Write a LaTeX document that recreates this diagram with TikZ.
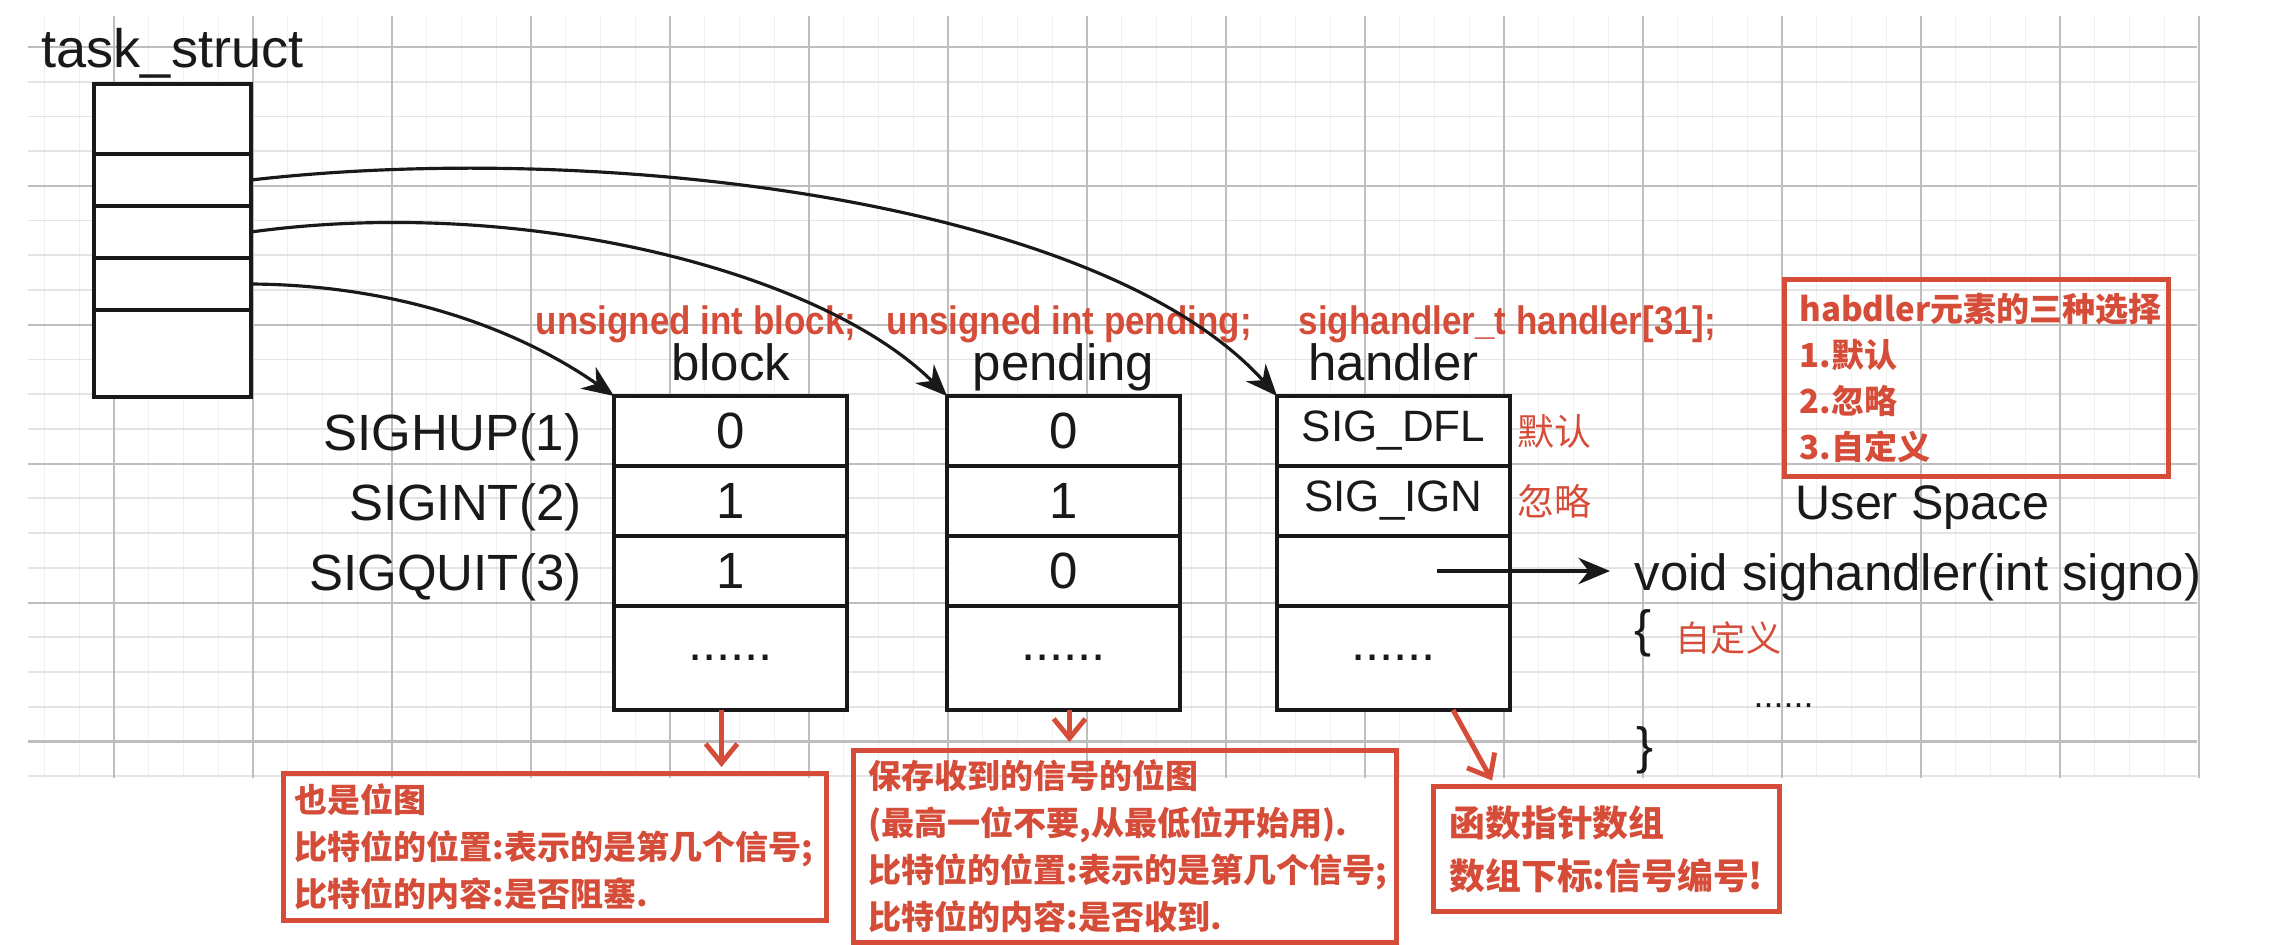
\documentclass[tikz,border=0pt]{standalone}
\usepackage{fontspec}
\setmainfont{Liberation Sans}
\newfontfamily\cjk{Noto Sans CJK SC}
\newfontfamily\narrowbf[FakeStretch=0.88]{Liberation Sans}
\usetikzlibrary{arrows.meta,positioning}
\definecolor{ink}{RGB}{25,25,25}
\definecolor{alarm}{RGB}{213,77,57}
\definecolor{gridmajor}{RGB}{190,190,190}
\definecolor{gridminor}{RGB}{228,228,228}
\definecolor{gridfaint}{RGB}{240,240,240}
\tikzset{
  >={Stealth[length=9pt,width=7.5pt]},
  src/.style={text=ink,inner sep=0pt,font=\fontsize{14.5}{17}\selectfont},
  slot/.style={draw=ink,fill=white,line width=1pt,minimum width=1.57cm,
    inner sep=0pt,outer sep=0pt},
  cell/.style={draw=ink,fill=white,line width=1pt,minimum width=2.33cm,
    minimum height=0.7cm,inner sep=0pt,outer sep=0pt,text=ink,
    font=\fontsize{14.5}{17}\selectfont},
  tag/.style={text=alarm,inner sep=0pt,font=\narrowbf\bfseries\fontsize{11.3}{13}\selectfont},
  zh/.style={text=alarm,inner sep=0pt,font=\cjk\fontsize{10.5}{12}\selectfont},
  note/.style={draw=alarm,line width=1.4pt,text=alarm,align=left,anchor=north west,
    inner ysep=0pt,font=\cjk\bfseries\fontsize{9.4}{13.4}\selectfont},
  pointer/.style={->,draw=ink,line width=0.9pt},
  hint/.style={draw=alarm,line width=1.4pt,-{Straight Barb[length=5.5pt,width=9pt]}},
}

\begin{document}
\begin{tikzpicture}
  \useasboundingbox (0,0) rectangle (22.70,-9.44);
  \fill[white] (0,0) rectangle (22.70,-9.44);
  % grid paper
  \foreach \k in {-2,...,60}
    \draw[gridfaint,line width=0.4pt] ({(114+34.75*\k)/100},-0.16) -- ++(0,-7.62);
  \foreach \k in {0,...,21}
    \draw[gridminor,line width=0.5pt] (0.28,{-(47+34.72*\k)/100}) -- (21.97,{-(47+34.72*\k)/100});
  \foreach \k in {0,...,15}
    \draw[gridmajor,line width=0.6pt] ({(114+139*\k)/100},-0.16) -- ++(0,-7.62);
  \foreach \k in {0,...,5}
    \draw[gridmajor,line width=0.6pt] (0.28,{-(47+138.9*\k)/100}) -- (21.97,{-(47+138.9*\k)/100});

  % task_struct
  \node[src,anchor=base west,font=\fontsize{15.4}{18}\selectfont] (title) at (0.41,-0.67) {task\_struct};
  \node[slot,minimum height=0.70cm,anchor=north west] (t1) at (0.94,-0.84) {};
  \node[slot,minimum height=0.52cm,below=0pt of t1] (t2) {};
  \node[slot,minimum height=0.52cm,below=0pt of t2] (t3) {};
  \node[slot,minimum height=0.52cm,below=0pt of t3] (t4) {};
  \node[slot,minimum height=0.87cm,below=0pt of t4] (t5) {};

  % block / pending / handler tables
  \node[cell,anchor=north west] (b1) at (6.14,-3.96) {0};
  \node[cell,below=0pt of b1] (b2) {1};
  \node[cell,below=0pt of b2] (b3) {1};
  \node[cell,minimum height=1.04cm,below=0pt of b3] (b4) {......};
  \node[cell,right=1.0cm of b1] (p1) {0};
  \node[cell,below=0pt of p1] (p2) {1};
  \node[cell,below=0pt of p2] (p3) {0};
  \node[cell,minimum height=1.04cm,below=0pt of p3] (p4) {......};
  \node[cell,right=0.97cm of p1,font=\fontsize{12.5}{15}\selectfont] (h1) {SIG\_DFL};
  \node[cell,below=0pt of h1,font=\fontsize{12.5}{15}\selectfont] (h2) {SIG\_IGN};
  \node[cell,below=0pt of h2] (h3) {};
  \node[cell,minimum height=1.04cm,below=0pt of h3] (h4) {......};

  \node[src,anchor=base] (bhead) at ([yshift=0.16cm]b1.north) {block};
  \node[src,anchor=base] (phead) at ([yshift=0.16cm]p1.north) {pending};
  \node[src,anchor=base] (hhead) at ([yshift=0.16cm]h1.north) {handler};
  \node[src,anchor=base east] (sig1) at ([xshift=-0.32cm,yshift=-0.19cm]b1.west) {SIGHUP(1)};
  \node[src,anchor=base east] (sig2) at ([xshift=-0.32cm,yshift=-0.19cm]b2.west) {SIGINT(2)};
  \node[src,anchor=base east] (sig3) at ([xshift=-0.32cm,yshift=-0.19cm]b3.west) {SIGQUIT(3)};

  \node[tag,anchor=base west] (btag) at (5.35,-3.34) {unsigned int block;};
  \node[tag,anchor=base west] (ptag) at (8.86,-3.34) {unsigned int pending;};
  \node[tag,anchor=base west] (htag) at (12.98,-3.34) {sighandler\_t handler[31];};
  \node[zh,anchor=west] (dfl) at ([xshift=0.07cm]h1.east) {默认};
  \node[zh,anchor=west] (ign) at ([xshift=0.07cm]h2.east) {忽略};

  \draw[pointer] (t2.east) .. controls (6.0,-1.4) and (11.0,-2.0) .. (h1.north west);
  \draw[pointer] (t3.east) .. controls (5.2,-1.95) and (8.2,-2.7) .. (p1.north west);
  \draw[pointer] (t4.east) .. controls (4.0,-2.85) and (5.2,-3.3) .. (b1.north west);

  % user space
  \node[note,text width=3.54cm,inner xsep=0.15cm,minimum height=1.97cm,
    font=\cjk\bfseries\fontsize{9.4}{13.1}\selectfont] (choices) at (17.82,-2.77)
    {habdler元素的三种选择\\1.默认\\2.忽略\\3.自定义};
  \node[src,anchor=base west,font=\fontsize{13.8}{16}\selectfont] (user) at (17.95,-5.19) {User Space};
  \node[src,anchor=base west] (fn) at (16.34,-5.90) {void sighandler(int signo)};
  \node[src,anchor=base west] (lbrace) at (16.34,-6.46) {\{};
  \node[zh,anchor=base west,font=\cjk\fontsize{10}{12}\selectfont] (custom) at (16.75,-6.51) {自定义};
  \node[src,anchor=base west,font=\fontsize{10.2}{12}\selectfont] (body) at (17.53,-7.07) {......};
  \node[src,anchor=base west] (rbrace) at (16.36,-7.63) {\}};
  \draw[pointer,shorten >=0.24cm] ([xshift=0.43cm]h3.center) -- (h3.center -| fn.west);

  % notes
  \node[note,text width=5.21cm,inner xsep=0.11cm,minimum height=1.47cm] (bnote) at (2.81,-7.71)
    {也是位图\\比特位的位置:表示的是第几个信号;\\比特位的内容:是否阻塞.};
  \node[note,text width=5.13cm,inner xsep=0.15cm,minimum height=1.92cm] (pnote) at (8.51,-7.48)
    {保存收到的信号的位图\\(最高一位不要,从最低位开始用).\\比特位的位置:表示的是第几个信号;\\比特位的内容:是否收到.};
  \node[note,text width=3.14cm,inner xsep=0.16cm,minimum height=1.25cm,
    font=\cjk\bfseries\fontsize{10.2}{15.1}\selectfont] (hnote) at (14.31,-7.84)
    {函数指针数组\\数组下标:信号编号!};

  \coordinate (bx) at ([xshift=-0.09cm]b4.south);
  \coordinate (px) at ([xshift=0.06cm]p4.south);
  \draw[hint,shorten >=0.04cm] (bx) -- (bx |- bnote.north);
  \draw[hint,shorten >=0.06cm] (px) -- (px |- pnote.north);
  \draw[hint,shorten >=0.04cm] ([xshift=-0.57cm]h4.south east) -- ([xshift=0.63cm]hnote.north west);
\end{tikzpicture}
\end{document}
